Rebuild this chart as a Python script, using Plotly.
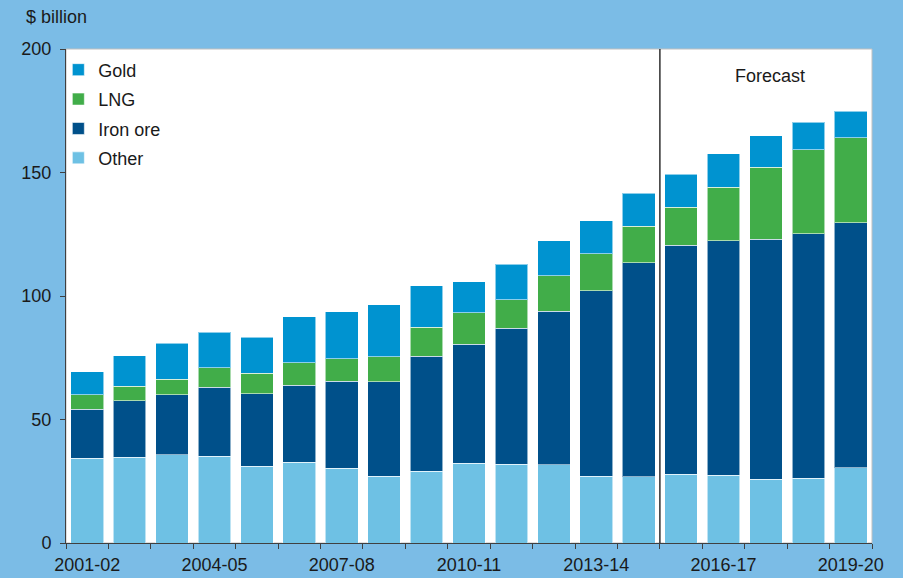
import plotly.graph_objects as go

years = ["2001-02", "2002-03", "2003-04", "2004-05", "2005-06", "2006-07", "2007-08",
         "2008-09", "2009-10", "2010-11", "2011-12", "2012-13", "2013-14", "2014-15",
         "2015-16", "2016-17", "2017-18", "2018-19", "2019-20"]
other = [34.3, 34.8, 35.8, 35.1, 31.0, 32.7, 30.2, 27.0, 29.1, 32.3, 31.9, 31.6, 27.1, 26.9,
         27.8, 27.4, 25.8, 26.2, 30.5]
iron_ore = [19.8, 22.7, 24.2, 27.9, 29.4, 31.1, 35.3, 38.3, 46.6, 48.1, 55.0, 62.2, 75.0, 86.6,
            92.8, 95.0, 97.2, 99.0, 99.1]
lng = [5.9, 5.9, 6.3, 8.0, 8.4, 9.1, 9.0, 10.1, 11.6, 12.8, 11.5, 14.3, 15.0, 14.8,
       15.3, 21.6, 29.2, 34.0, 34.5]
gold = [9.4, 12.4, 14.5, 14.4, 14.5, 18.7, 19.1, 21.1, 16.9, 12.6, 14.4, 14.3, 13.3, 13.3,
        13.4, 13.6, 12.6, 11.2, 10.7]
tick_labels = [y if i % 3 == 0 else "" for i, y in enumerate(years)]

series = [
    ("Other", other, "#6EC1E4", 4),
    ("Iron ore", iron_ore, "#00508A", 3),
    ("LNG", lng, "#41AD49", 2),
    ("Gold", gold, "#0093D0", 1),
]

fig = go.Figure()
for name, vals, col, rank in series:
    fig.add_trace(go.Bar(
        x=years, y=vals, name=name, legendgroup=name, legendrank=rank,
        marker=dict(color=col, line=dict(color="rgba(255,255,255,0.55)", width=1)),
    ))

FONT = "Liberation Sans, Arial, sans-serif"
fig.update_layout(
    width=903, height=578,
    barmode="stack", bargap=0.23,
    paper_bgcolor="#7BBCE6", plot_bgcolor="white",
    margin=dict(l=66, r=31, t=49, b=35, autoexpand=False),
    font=dict(family=FONT, size=18, color="#1a1a1a"),
    showlegend=True,
    legend=dict(x=-0.0095, y=0.995, xanchor="left", yanchor="top",
                traceorder="grouped", tracegroupgap=3,
                bgcolor="rgba(0,0,0,0)", font=dict(size=18, color="#1a1a1a"),
                itemwidth=30),
    xaxis=dict(type="category", tickmode="array", tickvals=years, ticktext=tick_labels,
               tickson="boundaries", ticks="outside", ticklen=5, tickcolor="#404040",
               showline=True, linecolor="#404040", linewidth=1, showgrid=False,
               tickangle=0, tickfont=dict(size=18), ticklabelstandoff=5,
               range=[-0.5, 18.5], automargin=False),
    yaxis=dict(range=[0, 200], tickvals=[0, 50, 100, 150, 200], ticks="outside",
               ticklen=5, tickcolor="#404040", showline=True, linecolor="#404040",
               linewidth=1, showgrid=False, zeroline=False, tickfont=dict(size=18),
               ticklabelstandoff=5, automargin=False),
    shapes=[
        dict(type="rect", xref="paper", yref="paper", x0=0, x1=1, y0=0, y1=1,
             line=dict(color="#c0c0c0", width=1), layer="below"),
        dict(type="line", xref="x", yref="paper", x0=13.5, x1=13.5, y0=0, y1=1,
             line=dict(color="#303030", width=1.5)),
    ],
    annotations=[
        dict(text="$ billion", xref="paper", yref="paper", x=-0.052, y=1.065,
             xanchor="left", yanchor="middle", showarrow=False, font=dict(size=18)),
        dict(text="Forecast", xref="x", yref="y", x=16.1, y=189.2, showarrow=False,
             font=dict(size=18)),
    ],
)

fig.write_html("out.html", config={"displayModeBar": False},
               post_script="document.body.style.margin='0';")
